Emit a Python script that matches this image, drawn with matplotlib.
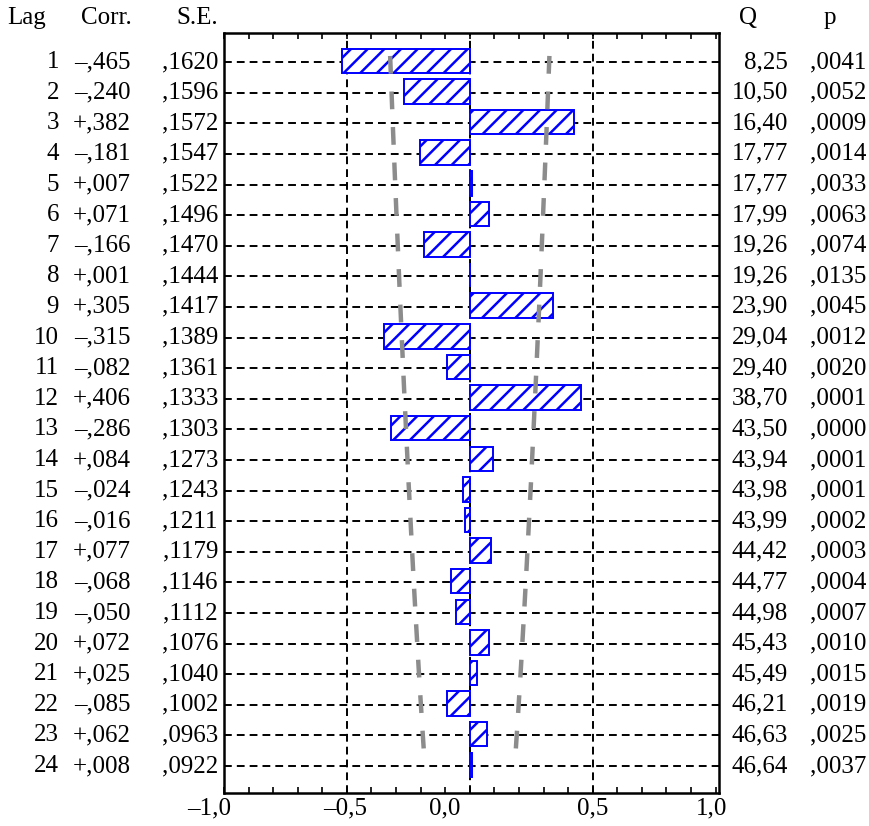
import numpy as np
import matplotlib
matplotlib.use("Agg")
import matplotlib.pyplot as plt
from matplotlib.transforms import blended_transform_factory, ScaledTranslation

lags = list(range(1, 25))
corr = [-.465, -.240, .382, -.181, .007, .071, -.166, .001, .305, -.315, -.082, .406,
        -.286, .084, -.024, -.016, .077, -.068, -.050, .072, .025, -.085, .062, .008]
se = [.1620, .1596, .1572, .1547, .1522, .1496, .1470, .1444, .1417, .1389, .1361, .1333,
      .1303, .1273, .1243, .1211, .1179, .1146, .1112, .1076, .1040, .1002, .0963, .0922]
q = [8.25, 10.50, 16.40, 17.77, 17.77, 17.99, 19.26, 19.26, 23.90, 29.04, 29.40, 38.70,
     43.50, 43.94, 43.98, 43.99, 44.42, 44.77, 44.98, 45.43, 45.49, 46.21, 46.63, 46.64]
p = [.0041, .0052, .0009, .0014, .0033, .0063, .0074, .0135, .0045, .0012, .0020, .0001,
     .0000, .0001, .0001, .0002, .0003, .0004, .0007, .0010, .0015, .0019, .0025, .0037]
xticks = [-1.0, -0.5, 0.0, 0.5, 1.0]
xticklabels = ["–1,0", "–0,5", "0,0", "0,5", "1,0"]

plt.rcParams["font.family"] = "Liberation Serif"
plt.rcParams["font.size"] = 18
plt.rcParams["hatch.linewidth"] = 1.8

W, H = 870, 826
fig = plt.figure(figsize=(W / 100, H / 100), dpi=100)
ax = fig.add_axes([224 / W, 33 / H, (719 - 224) / W, (793 - 33) / H])

lags = np.array(lags)
corr = np.array(corr)
se = np.array(se)

# bars in the original come out a bit longer than the tick scale
bar_scale = 1.114
ax.barh(lags - 0.04, corr * bar_scale, height=0.8, left=0, color="white",
        edgecolor="#0000ff", hatch="//", linewidth=1.4, zorder=3)

dash = (0, (4, 2.6))
for lag in lags:
    ax.axhline(lag, color="black", lw=1.4, linestyle=dash, zorder=2)
for xv in (-0.5, 0.0, 0.5):
    ax.axvline(xv, color="black", lw=1.4, linestyle=dash, zorder=2)

# confidence limits
ax.plot(2 * se, lags - 0.2, color="#8c8c8c", lw=3.2, linestyle=(0, (4, 4)), zorder=4)
ax.plot(-2 * se, lags - 0.2, color="#8c8c8c", lw=3.2, linestyle=(0, (4, 4)), zorder=4)

ax.set_xlim(-1.0, 1.014)
ax.set_ylim(24.88, 0.05)
ax.set_xticks(xticks)
ax.set_xticklabels(xticklabels)
ax.set_xticks(np.arange(-1.0, 1.01, 0.1), minor=True)
ax.tick_params(axis="x", which="both", direction="in", top=True, length=4, width=1.2, pad=3)
ax.set_yticks([])
for s in ax.spines.values():
    s.set_linewidth(1.8)

# the original tick labels sit a little left of their ticks
label_shift = [-15, -2, -25, 0, -4]
for lab, dx in zip(ax.get_xticklabels(), label_shift):
    lab.set_transform(lab.get_transform() + ScaledTranslation(dx / 100, 0, fig.dpi_scale_trans))

tr = blended_transform_factory(fig.transFigure, ax.transData)


def fmt_frac(v, nd):
    return (f"{abs(v):.{nd}f}")[1:].replace(".", ",")


for i, lag in enumerate(lags):
    c = corr[i]
    sign = "–" if c < 0 else "+"
    fig.text(59 / W, lag, str(lag), ha="right", va="center", transform=tr)
    fig.text(131 / W, lag, sign + fmt_frac(c, 3), ha="right", va="center", transform=tr)
    fig.text(218 / W, lag, fmt_frac(se[i], 4), ha="right", va="center", transform=tr)
    fig.text(788 / W, lag, f"{q[i]:.2f}".replace(".", ","), ha="right", va="center", transform=tr)
    fig.text(866 / W, lag, fmt_frac(p[i], 4), ha="right", va="center", transform=tr)

ty = 1 - 18 / H
fig.text(27 / W, ty, "Lag", ha="center", va="center")
fig.text(106 / W, ty, "Corr.", ha="center", va="center")
fig.text(218 / W, ty, "S.E.", ha="right", va="center")
fig.text(748 / W, ty, "Q", ha="center", va="center")
fig.text(830 / W, ty, "p", ha="center", va="center")

fig.savefig("out.png", dpi=100)
